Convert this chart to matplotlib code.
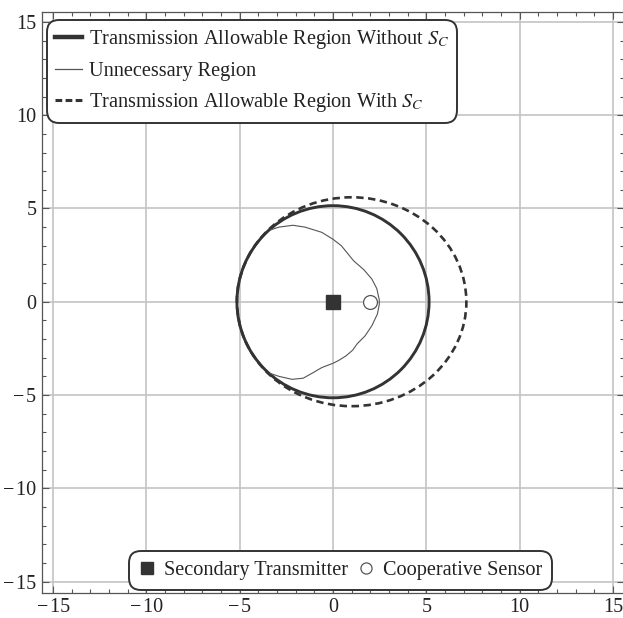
import matplotlib
matplotlib.use("Agg")
import matplotlib.pyplot as plt
from matplotlib.patches import Circle, Ellipse
from matplotlib.lines import Line2D
from matplotlib.ticker import MultipleLocator, FixedLocator, FixedFormatter

# ---- data ----
circle_center = (0.0, 0.0)
circle_radius = 5.15
ellipse_center = (1.0, 0.0)
ellipse_width = 12.3
ellipse_height = 11.2

unnec_x = [-3.35, -2.9, -2.15, -1.5, -0.6, 0.0, 0.45, 1.1, 1.65, 2.08, 2.35, 2.48,
           2.48, 2.38, 2.08, 1.72, 1.3, 1.05, 0.7, 0.3, 0.0, -0.6, -1.15, -1.6,
           -2.2, -2.9, -3.35]
unnec_y = [3.85, 4.0, 4.1, 4.0, 3.72, 3.35, 3.0, 2.2, 1.72, 1.22, 0.7, 0.1,
           -0.15, -0.66, -1.29, -1.83, -2.25, -2.6, -2.9, -3.15, -3.3, -3.53, -3.85, -4.1,
           -4.16, -4.0, -3.85]

transmitter_xy = (0.0, 0.0)
sensor_xy = (2.0, 0.0)

tick_values = [-15, -10, -5, 0, 5, 10, 15]
tick_labels = ["\u2212\u200a15", "\u2212\u200a10", "\u2212\u200a5", "0", "5", "10", "15"]

legend1_labels = [r"Transmission Allowable Region Without $S_C$",
                  "Unnecessary Region",
                  r"Transmission Allowable Region With $S_C$"]
legend2_labels = ["Secondary Transmitter", "Cooperative Sensor"]

# ---- style ----
plt.rcParams['font.family'] = ['Liberation Serif', 'DejaVu Serif']
plt.rcParams['mathtext.fontset'] = 'stix'

W, H = 623, 618
fig = plt.figure(figsize=(W / 100, H / 100), dpi=100)
ax = fig.add_axes([42 / W, 25.3 / H, 582 / W, 581 / H])
ax.set_xlim(-15.6, 15.6)
ax.set_ylim(-15.6, 15.55)

dark = '#333333'
gridc = '#c4c4c4'

for v in tick_values:
    ax.axvline(v, color=gridc, lw=1.2, zorder=0)
    ax.axhline(v, color=gridc, lw=1.2, zorder=0)

ax.add_patch(Ellipse(ellipse_center, ellipse_width, ellipse_height, fill=False,
                     ec=dark, lw=1.9, ls=(0, (2.8, 1.7)), zorder=2))
ax.add_patch(Circle(circle_center, circle_radius, fill=False, ec=dark, lw=2.1, zorder=3))
ax.plot(unnec_x, unnec_y, color='#555555', lw=0.8, zorder=3)

ax.plot([transmitter_xy[0]], [transmitter_xy[1]], marker='s', ms=10, color=dark,
        ls='none', zorder=4)
ax.plot([sensor_xy[0]], [sensor_xy[1]], marker='o', ms=10, mfc='white', mec='#555555',
        mew=0.9, ls='none', zorder=4)

# ticks
ax.xaxis.set_major_locator(FixedLocator(tick_values))
ax.yaxis.set_major_locator(FixedLocator(tick_values))
ax.xaxis.set_major_formatter(FixedFormatter(tick_labels))
ax.yaxis.set_major_formatter(FixedFormatter(tick_labels))
ax.xaxis.set_minor_locator(MultipleLocator(1))
ax.yaxis.set_minor_locator(MultipleLocator(1))
ax.tick_params(which='both', direction='in', top=True, right=True, color='#555555',
               labelsize=14.5, labelcolor='#222222')
ax.tick_params(which='major', length=5, width=0.8, pad=4)
ax.tick_params(which='minor', length=3, width=0.8)
for s in ax.spines.values():
    s.set_color('#555555')
    s.set_linewidth(0.9)

# legend 1
h1 = [Line2D([], [], color=dark, lw=3.2),
      Line2D([], [], color='#555555', lw=0.9),
      Line2D([], [], color=dark, lw=2.2, ls=(0, (2.2, 1.1)))]
leg1 = ax.legend(h1, legend1_labels, loc='upper left',
                 bbox_to_anchor=(47 / W, 1 - 20 / H), bbox_transform=fig.transFigure,
                 borderaxespad=0, fontsize=14.6, handlelength=1.35, handletextpad=0.3,
                 labelspacing=0.52, borderpad=0.4, fancybox=True, framealpha=1,
                 labelcolor='#222222')
leg1.get_frame().set_edgecolor(dark)
leg1.get_frame().set_linewidth(1.4)
leg1.get_frame().set_boxstyle('round', pad=0.0, rounding_size=0.6)
ax.add_artist(leg1)

# legend 2
h2 = [Line2D([], [], marker='s', ms=8, color=dark, ls='none'),
      Line2D([], [], marker='o', ms=8, mfc='white', mec='#555555', mew=0.9, ls='none')]
leg2 = ax.legend(h2, legend2_labels, loc='lower center', ncol=2,
                 bbox_to_anchor=(340.5 / W, 28 / H), bbox_transform=fig.transFigure,
                 borderaxespad=0, fontsize=14.6, handlelength=0.8, handletextpad=0.45,
                 columnspacing=0.45, borderpad=0.5, fancybox=True, framealpha=1,
                 labelcolor='#222222')
leg2.get_frame().set_edgecolor(dark)
leg2.get_frame().set_linewidth(1.4)
leg2.get_frame().set_boxstyle('round', pad=0.0, rounding_size=0.6)

fig.savefig('out.png', dpi=100, facecolor='white')
